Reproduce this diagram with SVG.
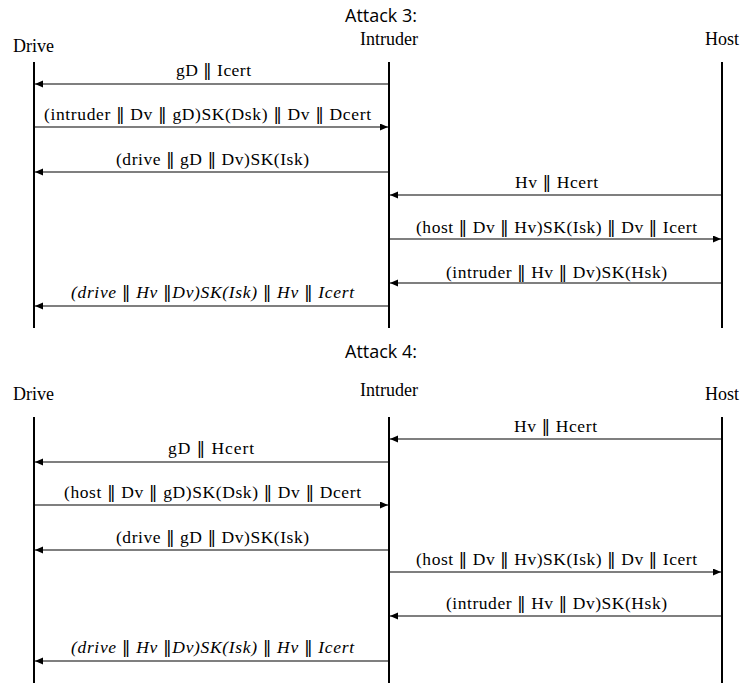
<svg xmlns="http://www.w3.org/2000/svg" width="744" height="683" viewBox="0 0 744 683">
<style>
.title{font-family:"Open Sans","Liberation Sans",sans-serif;font-size:18px;fill:#000;text-anchor:middle}
.actor{font-family:"Liberation Serif","Times New Roman",serif;font-size:18px;fill:#000}
.lbl{font-family:"Liberation Serif","Times New Roman",serif;font-size:17.5px;fill:#000;text-anchor:middle}
.p{font-family:"DejaVu Serif","DejaVu Sans",serif;font-weight:normal}
.it{font-style:italic}
.life{stroke:#000;stroke-width:2;fill:none}
.msg{stroke:#000;stroke-width:1.2;fill:none;marker-end:url(#ah)}
</style>
<defs>
<marker id="ah" markerUnits="userSpaceOnUse" markerWidth="9" markerHeight="8" refX="8" refY="3.5" orient="auto">
<path d="M0,0 L8,3.5 L0,7 z" fill="#000"/>
</marker>
</defs>
<rect width="744" height="683" fill="#fff"/>

<g id="attack3">
<text class="title" x="381" y="22">Attack 3:</text>
<g id="a3-drive"><text class="actor" x="13" y="52">Drive</text><line class="life" x1="34" y1="62" x2="34" y2="328"/></g>
<g id="a3-intruder"><text class="actor" x="389" y="45" text-anchor="middle">Intruder</text><line class="life" x1="389" y1="62" x2="389" y2="328"/></g>
<g id="a3-host"><text class="actor" x="739" y="45" text-anchor="end">Host</text><line class="life" x1="722" y1="62" x2="722" y2="328"/></g>
<g id="a3-connectors">
<line class="msg" x1="388" y1="84" x2="35" y2="84"/>
<text class="lbl" x="213.5" y="76" textLength="75" lengthAdjust="spacing">gD <tspan class="p">‖</tspan> Icert</text>
<line class="msg" x1="35" y1="127" x2="388" y2="127"/>
<text class="lbl" x="207.5" y="120" textLength="327" lengthAdjust="spacing">(intruder <tspan class="p">‖</tspan> Dv <tspan class="p">‖</tspan> gD)SK(Dsk) <tspan class="p">‖</tspan> Dv <tspan class="p">‖</tspan> Dcert</text>
<line class="msg" x1="388" y1="172" x2="35" y2="172"/>
<text class="lbl" x="212.5" y="165" textLength="193" lengthAdjust="spacing">(drive <tspan class="p">‖</tspan> gD <tspan class="p">‖</tspan> Dv)SK(Isk)</text>
<line class="msg" x1="721" y1="195" x2="390" y2="195"/>
<text class="lbl" x="556.5" y="188" textLength="83" lengthAdjust="spacing">Hv <tspan class="p">‖</tspan> Hcert</text>
<line class="msg" x1="390" y1="239" x2="721" y2="239"/>
<text class="lbl" x="556.5" y="233" textLength="281" lengthAdjust="spacing">(host <tspan class="p">‖</tspan> Dv <tspan class="p">‖</tspan> Hv)SK(Isk) <tspan class="p">‖</tspan> Dv <tspan class="p">‖</tspan> Icert</text>
<line class="msg" x1="721" y1="283" x2="390" y2="283"/>
<text class="lbl" x="556.5" y="278" textLength="221" lengthAdjust="spacing">(intruder <tspan class="p">‖</tspan> Hv <tspan class="p">‖</tspan> Dv)SK(Hsk)</text>
<line class="msg" x1="388" y1="306" x2="35" y2="306"/>
<text class="lbl it" x="212.5" y="298" textLength="283" lengthAdjust="spacing">(drive <tspan class="p">‖</tspan> Hv <tspan class="p">‖</tspan>Dv)SK(Isk) <tspan class="p">‖</tspan> Hv <tspan class="p">‖</tspan> Icert</text>
</g>
</g>

<g id="attack4">
<text class="title" x="381" y="358">Attack 4:</text>
<g id="a4-drive"><text class="actor" x="13" y="400">Drive</text><line class="life" x1="34" y1="417" x2="34" y2="683"/></g>
<g id="a4-intruder"><text class="actor" x="389" y="396" text-anchor="middle">Intruder</text><line class="life" x1="389" y1="417" x2="389" y2="683"/></g>
<g id="a4-host"><text class="actor" x="739" y="400" text-anchor="end">Host</text><line class="life" x1="722" y1="417" x2="722" y2="683"/></g>
<g id="a4-connectors">
<line class="msg" x1="721" y1="439" x2="390" y2="439"/>
<text class="lbl" x="555.5" y="432" textLength="83" lengthAdjust="spacing">Hv <tspan class="p">‖</tspan> Hcert</text>
<line class="msg" x1="388" y1="462" x2="35" y2="462"/>
<text class="lbl" x="211" y="454" textLength="86" lengthAdjust="spacing">gD <tspan class="p">‖</tspan> Hcert</text>
<line class="msg" x1="35" y1="505" x2="388" y2="505"/>
<text class="lbl" x="212.5" y="498" textLength="297" lengthAdjust="spacing">(host <tspan class="p">‖</tspan> Dv <tspan class="p">‖</tspan> gD)SK(Dsk) <tspan class="p">‖</tspan> Dv <tspan class="p">‖</tspan> Dcert</text>
<line class="msg" x1="388" y1="550" x2="35" y2="550"/>
<text class="lbl" x="212.5" y="543" textLength="193" lengthAdjust="spacing">(drive <tspan class="p">‖</tspan> gD <tspan class="p">‖</tspan> Dv)SK(Isk)</text>
<line class="msg" x1="390" y1="572" x2="721" y2="572"/>
<text class="lbl" x="556.5" y="565" textLength="281" lengthAdjust="spacing">(host <tspan class="p">‖</tspan> Dv <tspan class="p">‖</tspan> Hv)SK(Isk) <tspan class="p">‖</tspan> Dv <tspan class="p">‖</tspan> Icert</text>
<line class="msg" x1="721" y1="616" x2="390" y2="616"/>
<text class="lbl" x="556.5" y="609" textLength="221" lengthAdjust="spacing">(intruder <tspan class="p">‖</tspan> Hv <tspan class="p">‖</tspan> Dv)SK(Hsk)</text>
<line class="msg" x1="388" y1="661" x2="35" y2="661"/>
<text class="lbl it" x="212.5" y="653" textLength="283" lengthAdjust="spacing">(drive <tspan class="p">‖</tspan> Hv <tspan class="p">‖</tspan>Dv)SK(Isk) <tspan class="p">‖</tspan> Hv <tspan class="p">‖</tspan> Icert</text>
</g>
</g>
</svg>
